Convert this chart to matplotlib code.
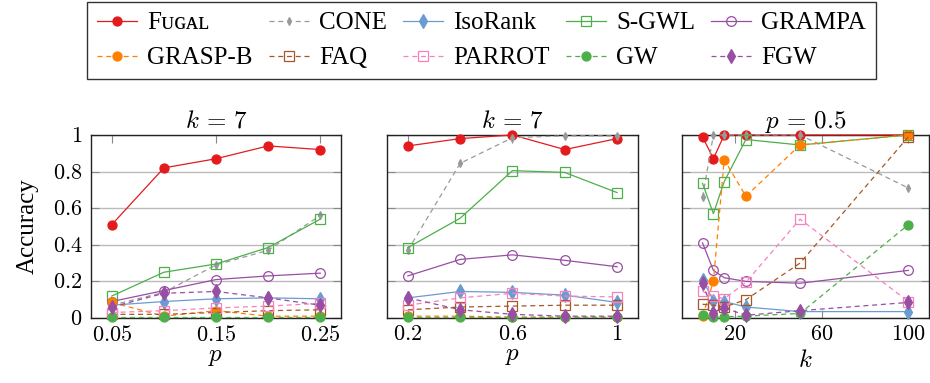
import numpy as np
import matplotlib
matplotlib.use("Agg")
import matplotlib.pyplot as plt
from matplotlib.ticker import FuncFormatter

plt.rcParams['font.family'] = ['Liberation Serif', 'DejaVu Serif']
plt.rcParams['mathtext.fontset'] = 'cm'

# --- data ---
methods = ["Fᴜɢᴀʟ", "CONE", "IsoRank", "S-GWL", "GRAMPA",
           "GRASP-B", "FAQ", "PARROT", "GW", "FGW"]

p_small = [0.05, 0.10, 0.15, 0.20, 0.25]
p_large = [0.2, 0.4, 0.6, 0.8, 1.0]
k_vals = [5, 10, 15, 25, 50, 100]

# panel 1: k = 7, p small
acc_p_small = {
    "Fᴜɢᴀʟ":   [0.51, 0.82, 0.87, 0.94, 0.92],
    "CONE":    [0.07, 0.14, 0.29, 0.37, 0.56],
    "IsoRank": [0.07, 0.09, 0.105, 0.11, 0.105],
    "S-GWL":   [0.12, 0.25, 0.295, 0.385, 0.54],
    "GRAMPA":  [0.09, 0.15, 0.21, 0.23, 0.245],
    "GRASP-B": [0.085, 0.01, 0.04, 0.01, 0.01],
    "FAQ":     [0.02, 0.02, 0.03, 0.04, 0.045],
    "PARROT":  [0.03, 0.04, 0.055, 0.065, 0.08],
    "GW":      [0.005, 0.005, 0.005, 0.005, 0.005],
    "FGW":     [0.06, 0.135, 0.145, 0.11, 0.07],
}

# panel 2: k = 7, p large
acc_p_large = {
    "Fᴜɢᴀʟ":   [0.94, 0.98, 1.0, 0.92, 0.98],
    "CONE":    [0.37, 0.845, 0.985, 0.995, 0.995],
    "IsoRank": [0.11, 0.145, 0.14, 0.125, 0.085],
    "S-GWL":   [0.385, 0.545, 0.805, 0.795, 0.685],
    "GRAMPA":  [0.23, 0.32, 0.345, 0.315, 0.28],
    "GRASP-B": [0.01, 0.01, 0.005, 0.005, 0.005],
    "FAQ":     [0.045, 0.06, 0.065, 0.07, 0.07],
    "PARROT":  [0.07, 0.11, 0.135, 0.12, 0.115],
    "GW":      [0.003, 0.003, 0.003, 0.003, 0.003],
    "FGW":     [0.11, 0.045, 0.02, 0.01, 0.01],
}

# panel 3: p = 0.5, varying k
acc_k = {
    "Fᴜɢᴀʟ":   [0.99, 0.87, 1.0, 1.0, 1.0, 1.0],
    "CONE":    [0.66, 1.0, 1.0, 1.0, 1.0, 0.71],
    "IsoRank": [0.21, 0.095, 0.09, 0.06, 0.035, 0.035],
    "S-GWL":   [0.735, 0.57, 0.745, 0.975, 0.945, 1.0],
    "GRAMPA":  [0.41, 0.26, 0.22, 0.20, 0.19, 0.26],
    "GRASP-B": [0.01, 0.20, 0.865, 0.665, 0.945, 1.0],
    "FAQ":     [0.075, 0.07, 0.06, 0.10, 0.30, 0.99],
    "PARROT":  [0.145, 0.12, 0.105, 0.195, 0.54, 0.09],
    "GW":      [0.015, 0.007, 0.007, 0.01, 0.025, 0.51],
    "FGW":     [0.19, 0.03, 0.055, 0.015, 0.04, 0.085],
}

# --- styles ---
dash = (0, (4, 3))
styles = {
    "Fᴜɢᴀʟ":   dict(color="#e41a1c", ls="-", marker="o", mfc="#e41a1c", ms=6.5),
    "CONE":    dict(color="#999999", ls=dash, marker="d", mfc="#999999", ms=4),
    "IsoRank": dict(color="#6a9bd1", ls="-", marker="d", mfc="#6a9bd1", ms=7),
    "S-GWL":   dict(color="#4daf4a", ls="-", marker="s", mfc="none", ms=7),
    "GRAMPA":  dict(color="#984ea3", ls="-", marker="o", mfc="none", ms=7),
    "GRASP-B": dict(color="#ff7f00", ls=dash, marker="o", mfc="#ff7f00", ms=6.5),
    "FAQ":     dict(color="#a65628", ls=dash, marker="s", mfc="none", ms=7),
    "PARROT":  dict(color="#f781bf", ls=dash, marker="s", mfc="none", ms=7),
    "GW":      dict(color="#4daf4a", ls=dash, marker="o", mfc="#4daf4a", ms=6.5),
    "FGW":     dict(color="#984ea3", ls=dash, marker="d", mfc="#984ea3", ms=7),
}

fig = plt.figure(figsize=(9.3, 3.83), dpi=100)
bottom, height = 0.1697, 0.478
ax1 = fig.add_axes([0.0978, bottom, 0.269, height])
ax2 = fig.add_axes([0.4161, bottom, 0.2699, height])
ax3 = fig.add_axes([0.7333, bottom, 0.2656, height])

math_fmt = FuncFormatter(lambda v, pos: f"${v:g}$")


def draw(ax, xs, data, xlim, xticks, title, xlabel, lpad):
    handles = {}
    for m in methods:
        st = styles[m]
        h, = ax.plot(xs, data[m], color=st["color"], linestyle=st["ls"], lw=0.9,
                     marker=st["marker"], markersize=st["ms"],
                     markerfacecolor=st["mfc"], markeredgecolor=st["color"],
                     markeredgewidth=0.9, clip_on=False, zorder=3, label=m)
        handles[m] = h
    ax.set_xlim(*xlim)
    ax.set_ylim(0, 1)
    ax.set_xticks(xticks)
    ax.set_yticks(np.arange(0, 1.01, 0.2))
    ax.xaxis.set_major_formatter(math_fmt)
    ax.yaxis.set_major_formatter(math_fmt)
    ax.grid(axis="y", color="#bbbbbb", lw=1.0, zorder=0)
    ax.tick_params(direction="in", top=True, right=True, length=6,
                   color="#888888", labelsize=16, pad=6)
    for s in ax.spines.values():
        s.set_linewidth(1.0)
        s.set_color("#222222")
    ax.set_title(title, fontsize=18, pad=5)
    ax.set_xlabel(xlabel, fontsize=18, labelpad=lpad)
    return handles


handles = draw(ax1, p_small, acc_p_small, (0.03, 0.27), [0.05, 0.15, 0.25],
               r"$k\,=\,7$", r"$p$", 0)
draw(ax2, p_large, acc_p_large, (0.12, 1.08), [0.2, 0.6, 1.0],
     r"$k\,=\,7$", r"$p$", 0)
draw(ax3, k_vals, acc_k, (-4.5, 109.5), [20, 60, 100],
     r"$p\,=\,0.5$", r"$k$", 3)
ax2.tick_params(labelleft=False)
ax3.tick_params(labelleft=False)
ax1.set_ylabel("Accuracy", fontsize=18, labelpad=10)

# legend in row-major order
row1 = methods[:5]
row2 = methods[5:]
order = [m for pair in zip(row1, row2) for m in pair]
leg = fig.legend([handles[m] for m in order], order, ncol=5,
                 loc="upper left", bbox_to_anchor=(0.094, 0.995),
                 fontsize=18, frameon=True, fancybox=False, edgecolor="black",
                 handlelength=1.6, handletextpad=0.4, columnspacing=0.65,
                 labelspacing=0.5, borderpad=0.4, borderaxespad=0.0)
leg.get_frame().set_linewidth(1.0)

fig.savefig("out.png", dpi=100)
